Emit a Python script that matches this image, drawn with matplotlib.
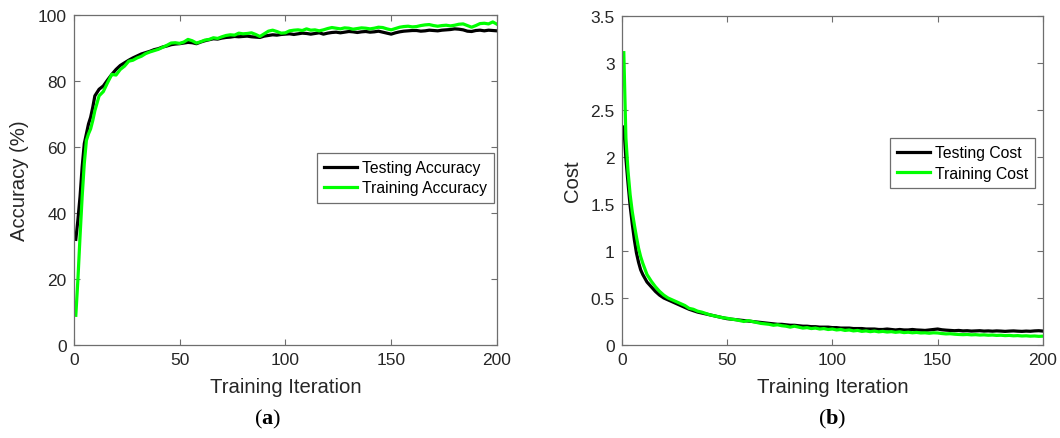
import matplotlib
matplotlib.use("Agg")
import matplotlib.pyplot as plt

plt.rcParams['font.family'] = ['Liberation Sans', 'DejaVu Sans']
plt.rcParams['mathtext.fontset'] = 'custom'
plt.rcParams['mathtext.rm'] = 'Liberation Serif'
plt.rcParams['mathtext.bf'] = 'Liberation Serif:bold'

iterations = list(range(1, 11)) + list(range(12, 201, 2))

test_acc = [32, 38, 45, 54, 61, 64, 67, 69, 72, 75.5,
            77.5, 78.5, 80.3, 82, 83.5, 84.7, 85.5, 86.3, 87, 87.6,
            88.2, 88.6, 89, 89.5, 89.8, 90.3, 90.6, 91, 91.2, 91.3,
            91.5, 91.7, 91.6, 91.3, 91.8, 92.2, 92.5, 92.8, 92.7, 93,
            93.2, 93.3, 93.5, 93.4, 93.5, 93.6, 93.4, 93.3, 93.2, 93.6,
            93.8, 94, 93.9, 94.1, 94.2, 94.3, 94.1, 94.3, 94.5, 94.4,
            94.2, 94.4, 94.6, 94.2, 94.5, 94.7, 94.8, 94.6, 94.8, 95,
            94.9, 94.7, 94.9, 95, 94.8, 94.9, 95.1, 94.8, 94.5, 94.2,
            94.6, 94.9, 95.1, 95.2, 95.3, 95.3, 95.1, 95.2, 95.4, 95.3,
            95.2, 95.4, 95.5, 95.6, 95.8, 95.7, 95.5, 95.1, 95.0, 95.3,
            95.4, 95.2, 95.4, 95.3, 95.2]

train_acc = [9, 20, 33, 45, 55, 62, 64, 65.5, 68, 71,
             75.5, 76.8, 79.5, 82, 81.8, 83.5, 84.5, 86, 86.3, 87,
             87.5, 88.3, 88.8, 89.2, 89.6, 90.2, 90.8, 91.5, 91.6, 91.4,
             91.8, 92.6, 92.2, 91.5, 91.9, 92.4, 92.6, 93.1, 92.9, 93.4,
             93.8, 94, 93.9, 94.5, 94.3, 94.4, 94.6, 94.1, 93.5, 94.3,
             95.1, 95.4, 95, 94.5, 94.6, 95.2, 95.4, 95.5, 95.3, 95.8,
             95.4, 95.5, 95.2, 95.5, 95.9, 96.2, 96, 95.8, 96.1, 96,
             95.7, 95.9, 96.1, 96, 95.8, 96, 96.3, 96.2, 95.8, 95.5,
             95.9, 96.3, 96.5, 96.6, 96.4, 96.5, 96.8, 97, 97.1, 96.8,
             96.6, 96.8, 96.9, 96.7, 96.9, 97.2, 97.3, 96.8, 96.3, 96.8,
             97.4, 97.5, 97.3, 97.9, 97.2]

test_cost = [2.32, 1.98, 1.72, 1.48, 1.29, 1.12, 0.98, 0.88, 0.8, 0.75,
             0.67, 0.62, 0.57, 0.53, 0.5, 0.48, 0.46, 0.44, 0.42, 0.4,
             0.38, 0.365, 0.35, 0.34, 0.33, 0.32, 0.31, 0.3, 0.29, 0.28,
             0.275, 0.27, 0.265, 0.26, 0.255, 0.25, 0.245, 0.24, 0.235, 0.23,
             0.225, 0.22, 0.22, 0.215, 0.21, 0.21, 0.205, 0.2, 0.2, 0.195,
             0.195, 0.19, 0.19, 0.19, 0.185, 0.185, 0.18, 0.18, 0.18, 0.175,
             0.175, 0.175, 0.17, 0.17, 0.17, 0.165, 0.165, 0.17, 0.165, 0.16,
             0.165, 0.16, 0.16, 0.165, 0.16, 0.158, 0.155, 0.16, 0.165, 0.17,
             0.162, 0.158, 0.155, 0.152, 0.155, 0.15, 0.152, 0.148, 0.15, 0.152,
             0.148, 0.15, 0.147, 0.15, 0.148, 0.145, 0.148, 0.15, 0.147, 0.145,
             0.148, 0.146, 0.15, 0.152, 0.148]

train_cost = [3.11, 2.2, 1.85, 1.6, 1.42, 1.28, 1.15, 1.03, 0.94, 0.87,
              0.75, 0.68, 0.62, 0.57, 0.53, 0.5, 0.48, 0.46, 0.44, 0.42,
              0.39, 0.38, 0.36, 0.35, 0.335, 0.32, 0.31, 0.3, 0.29, 0.285,
              0.275, 0.27, 0.26, 0.25, 0.26, 0.25, 0.24, 0.23, 0.225, 0.22,
              0.21, 0.215, 0.205, 0.2, 0.19, 0.2, 0.19, 0.18, 0.185, 0.175,
              0.18, 0.17, 0.175, 0.165, 0.17, 0.16, 0.165, 0.155, 0.16, 0.15,
              0.155, 0.145, 0.15, 0.142, 0.148, 0.14, 0.145, 0.138, 0.142, 0.135,
              0.14, 0.132, 0.136, 0.13, 0.134, 0.128, 0.13, 0.125, 0.13, 0.128,
              0.122, 0.118, 0.12, 0.115, 0.112, 0.11, 0.112, 0.108, 0.11, 0.106,
              0.108, 0.104, 0.106, 0.102, 0.104, 0.1, 0.102, 0.098, 0.1, 0.096,
              0.098, 0.094, 0.096, 0.092, 0.094]

acc_yticks = [0, 20, 40, 60, 80, 100]
cost_yticks = [0, 0.5, 1, 1.5, 2, 2.5, 3, 3.5]
cost_ylabels = ['0', '0.5', '1', '1.5', '2', '2.5', '3', '3.5']
xticks = [0, 50, 100, 150, 200]

W, H = 1060, 439
fig = plt.figure(figsize=(W / 100, H / 100), dpi=100)

ax1 = fig.add_axes([73.7 / W, 1 - 346 / H, (497 - 73.7) / W, 330 / H])
ax2 = fig.add_axes([621.7 / W, 1 - 346 / H, (1043 - 621.7) / W, 329 / H])

GREEN = '#00ff00'
for ax in (ax1, ax2):
    for s in ax.spines.values():
        s.set_color('#6e6e6e')
        s.set_linewidth(0.9)
    ax.tick_params(direction='in', top=True, right=True, length=4, width=0.8,
                   color='#6e6e6e', labelsize=12.5, labelcolor='#262626', pad=5)
    ax.set_xlim(0, 200)
    ax.set_xticks(xticks)
    ax.set_xlabel('Training Iteration', fontsize=14.6, color='#262626', labelpad=7)

ax1.plot(iterations, test_acc, color='black', lw=2.3, label='Testing Accuracy')
ax1.plot(iterations, train_acc, color=GREEN, lw=2.3, label='Training Accuracy')
ax1.set_ylim(0, 100)
ax1.set_yticks(acc_yticks)
ax1.set_ylabel('Accuracy (%)', fontsize=14.6, color='#262626', labelpad=6)

ax2.plot(iterations, test_cost, color='black', lw=2.3, label='Testing Cost')
ax2.plot(iterations, train_cost, color=GREEN, lw=2.3, label='Training Cost')
ax2.set_ylim(0, 3.5)
ax2.set_yticks(cost_yticks)
ax2.set_yticklabels(cost_ylabels)
ax2.set_ylabel('Cost', fontsize=14.6, color='#262626', labelpad=6)

leg_kw = dict(fontsize=11.3, fancybox=False, framealpha=1, edgecolor='#6e6e6e',
              handlelength=2.1, handletextpad=0.3, borderpad=0.45,
              labelspacing=0.35, borderaxespad=0)
l1 = ax1.legend(loc='upper right', bbox_to_anchor=(0.993, 0.582), **leg_kw)
l2 = ax2.legend(loc='upper right', bbox_to_anchor=(0.981, 0.629), **leg_kw)
for l in (l1, l2):
    l.get_frame().set_linewidth(0.9)

fig.text(268 / W, 1 - 419 / H, r'$\mathrm{(}\mathbf{a}\mathrm{)}$', fontsize=16,
         ha='center', va='center', color='black')
fig.text(832 / W, 1 - 419 / H, r'$\mathrm{(}\mathbf{b}\mathrm{)}$', fontsize=16,
         ha='center', va='center', color='black')

fig.savefig('out.png', dpi=100)
